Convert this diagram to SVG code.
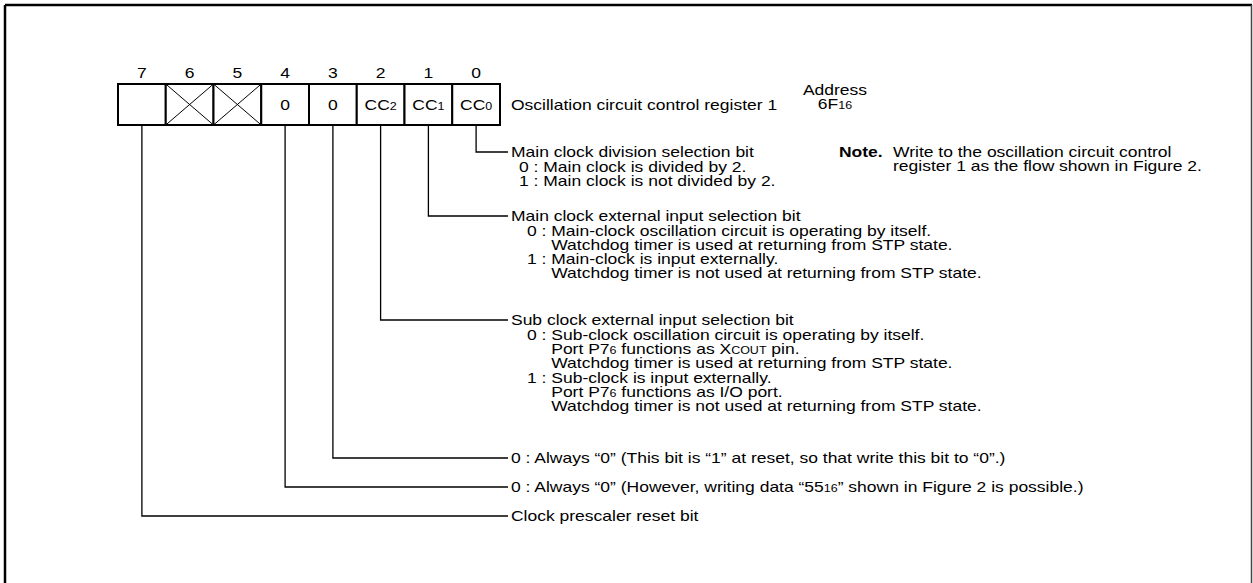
<svg xmlns="http://www.w3.org/2000/svg" width="1253" height="583" viewBox="0 0 1253 583">
<style>
text{font-family:"Liberation Sans",Arial,sans-serif;font-size:14px;fill:#000}
.c{text-anchor:middle}
.b{font-weight:bold}
.s{font-size:10px}
.cell{fill:#fff;stroke:#000;stroke-width:2}
.x{stroke:#000;stroke-width:1;fill:none}
.conn{stroke:#000;stroke-width:1.3;fill:none}
</style>
<rect width="1253" height="583" fill="#fff"/>
<g id="frame">
<line x1="5" y1="5" x2="1252" y2="5" stroke="#000" stroke-width="2.5"/>
<line x1="5" y1="5" x2="5" y2="583" stroke="#000" stroke-width="2.5"/>
<line x1="1251.5" y1="5" x2="1251.5" y2="583" stroke="#444" stroke-width="1.5"/>
</g>
<g id="register">
<rect class="cell" x="118" y="84" width="47.75" height="41"/>
<rect class="cell" x="165.75" y="84" width="47.75" height="41"/>
<rect class="cell" x="213.5" y="84" width="47.75" height="41"/>
<rect class="cell" x="261.25" y="84" width="47.75" height="41"/>
<rect class="cell" x="309" y="84" width="47.75" height="41"/>
<rect class="cell" x="356.75" y="84" width="47.75" height="41"/>
<rect class="cell" x="404.5" y="84" width="47.75" height="41"/>
<rect class="cell" x="452.25" y="84" width="47.75" height="41"/>
<path class="x" d="M165.75 84L213.5 125M213.5 84L165.75 125M213.5 84L261.25 125M261.25 84L213.5 125"/>
<g transform="scale(1.25 1)">
<text class="c" x="113.5" y="78.5">7</text>
<text class="c" x="151.7" y="78.5">6</text>
<text class="c" x="189.9" y="78.5">5</text>
<text class="c" x="228.1" y="78.5">4</text>
<text class="c" x="266.3" y="78.5">3</text>
<text class="c" x="304.5" y="78.5">2</text>
<text class="c" x="342.7" y="78.5">1</text>
<text class="c" x="380.9" y="78.5">0</text>
<text class="c" x="228.1" y="110">0</text>
<text class="c" x="266.3" y="110">0</text>
<text class="c" x="304.5" y="110">CC<tspan class="s">2</tspan></text>
<text class="c" x="342.7" y="110">CC<tspan class="s">1</tspan></text>
<text class="c" x="380.9" y="110">CC<tspan class="s">0</tspan></text>
<text x="408.8" y="110">Oscillation circuit control register 1</text>
<text class="c" x="668" y="95">Address</text>
<text class="c" x="668" y="109">6F<tspan class="s">16</tspan></text>
</g>
</g>
<g id="connectors">
<path class="conn" d="M476.1 125V152H508"/>
<path class="conn" d="M428.4 125V216H508"/>
<path class="conn" d="M380.6 125V320H508"/>
<path class="conn" d="M332.9 125V458H508"/>
<path class="conn" d="M285.1 125V487H508"/>
<path class="conn" d="M141.9 125V516H508"/>
</g>
<g id="note" transform="scale(1.25 1)">
<text class="b" x="671.2" y="157">Note.</text>
<text x="714.4" y="157">Write to the oscillation circuit control</text>
<text x="714.4" y="171">register 1 as the flow shown in Figure 2.</text>
</g>
<g id="bit0" transform="scale(1.25 1)">
<text x="408.8" y="157">Main clock division selection bit</text>
<text x="415.2" y="172">0 : Main clock is divided by 2.</text>
<text x="415.2" y="186">1 : Main clock is not divided by 2.</text>
</g>
<g id="bit1" transform="scale(1.25 1)">
<text x="408.8" y="221">Main clock external input selection bit</text>
<text x="421.6" y="236">0 : Main-clock oscillation circuit is operating by itself.</text>
<text x="441" y="250">Watchdog timer is used at returning from STP state.</text>
<text x="421.6" y="264">1 : Main-clock is input externally.</text>
<text x="441" y="278">Watchdog timer is not used at returning from STP state.</text>
</g>
<g id="bit2" transform="scale(1.25 1)">
<text x="408.8" y="325">Sub clock external input selection bit</text>
<text x="421.6" y="340">0 : Sub-clock oscillation circuit is operating by itself.</text>
<text x="441" y="354">Port P7<tspan class="s">6</tspan> functions as X<tspan class="s">COUT</tspan> pin.</text>
<text x="441" y="368">Watchdog timer is used at returning from STP state.</text>
<text x="421.6" y="383">1 : Sub-clock is input externally.</text>
<text x="441" y="397">Port P7<tspan class="s">6</tspan> functions as I/O port.</text>
<text x="441" y="411">Watchdog timer is not used at returning from STP state.</text>
</g>
<g id="bit3" transform="scale(1.25 1)">
<text x="408.8" y="463">0 : Always “0” (This bit is “1” at reset, so that write this bit to “0”.)</text>
</g>
<g id="bit4" transform="scale(1.25 1)">
<text x="408.8" y="492">0 : Always “0” (However, writing data “55<tspan class="s">16</tspan>” shown in Figure 2 is possible.)</text>
</g>
<g id="bit7" transform="scale(1.25 1)">
<text x="408.8" y="521">Clock prescaler reset bit</text>
</g>
</svg>
